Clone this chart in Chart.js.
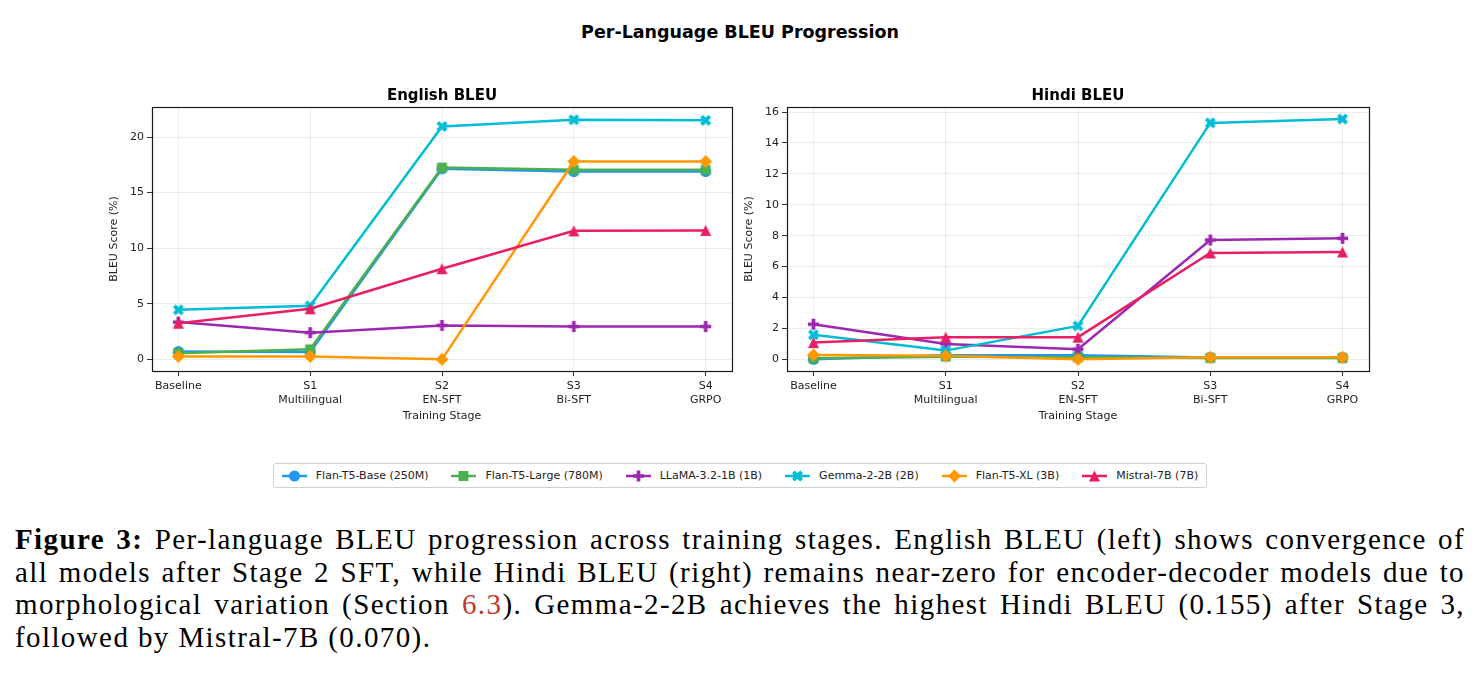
<!DOCTYPE html>
<html>
<head>
<meta charset="utf-8">
<script src="https://cdn.jsdelivr.net/npm/chart.js@4.4.1/dist/chart.umd.min.js"></script>
<style>
    html, body { margin:0; padding:0; background:#fff; }
    body { width:1480px; height:679px; position:relative; overflow:hidden; font-family:'DejaVu Sans', sans-serif; color:#000; }
    #suptitle { position:absolute; left:0; top:23.5px; width:1480px; text-align:center; font-size:17.5px; font-weight:bold; line-height:1; }
    .box { position:absolute; top:80px; }
    #boxEn { left:100px; }
    #boxHi { left:735px; }
    #legendWrap { position:absolute; left:0; top:463px; width:1480px; display:flex; justify-content:center; }
    #legend { display:flex; align-items:center; height:23px; padding:0 8px; border:1px solid #d0d0d0; border-radius:3px; font-size:11px; color:#222; }
    .lgItem { display:flex; align-items:center; margin-right:23px; }
    .lgItem:last-child { margin-right:0; }
    .lgItem canvas { margin-right:9px; }
    #caption { position:absolute; left:15px; top:523px; width:1450px; font-family:'Liberation Serif', serif; font-size:29px; line-height:32.5px; letter-spacing:1.4px; }
    #caption .ln { white-space:nowrap; text-align:justify; text-align-last:justify; }
    #caption .ln.last { text-align:left; text-align-last:left; }
    #caption .ref { color:#c0392b; }
</style>
</head>
<body>
<div id="suptitle">Per-Language BLEU Progression</div>
<div class="box" id="boxEn"><canvas id="chartEn" width="642" height="345"></canvas></div>
<div class="box" id="boxHi"><canvas id="chartHi" width="644" height="345"></canvas></div>
<div id="legendWrap"><div id="legend"></div></div>
<div id="caption">
    <div class="ln"><b>Figure 3:</b> Per-language BLEU progression across training stages. English BLEU (left) shows convergence of</div>
    <div class="ln">all models after Stage 2 SFT, while Hindi BLEU (right) remains near-zero for encoder-decoder models due to</div>
    <div class="ln">morphological variation (Section <span class="ref">6.3</span>). Gemma-2-2B achieves the highest Hindi BLEU (0.155) after Stage 3,</div>
    <div class="ln last">followed by Mistral-7B (0.070).</div>
</div>
<script>
// x축 단계 (여러 줄 라벨)
const stages = [['Baseline'], ['S1', 'Multilingual'], ['S2', 'EN-SFT'], ['S3', 'Bi-SFT'], ['S4', 'GRPO']];

// 모델 이름 / 색 / 마커
const models = ['Flan-T5-Base (250M)', 'Flan-T5-Large (780M)', 'LLaMA-3.2-1B (1B)', 'Gemma-2-2B (2B)', 'Flan-T5-XL (3B)', 'Mistral-7B (7B)'];
const modelColors = ['#2196F3', '#4CAF50', '#9C27B0', '#00BCD4', '#FF9800', '#E91E63'];
const modelMarkers = ['circle', 'square', 'plus', 'x', 'diamond', 'triangle'];

// English BLEU (%)
const enFlanBase  = [0.7, 0.65, 17.15, 16.9, 16.9];
const enFlanLarge = [0.55, 0.9, 17.25, 17.05, 17.05];
const enLlama     = [3.35, 2.4, 3.05, 2.95, 2.95];
const enGemma     = [4.45, 4.82, 20.95, 21.55, 21.5];
const enFlanXL    = [0.25, 0.25, 0.0, 17.8, 17.8];
const enMistral   = [3.25, 4.55, 8.15, 11.56, 11.6];

// Hindi BLEU (%)
const hiFlanBase  = [0.0, 0.26, 0.26, 0.12, 0.12];
const hiFlanLarge = [0.06, 0.17, 0.13, 0.08, 0.08];
const hiLlama     = [2.27, 0.99, 0.65, 7.72, 7.83];
const hiGemma     = [1.58, 0.56, 2.16, 15.3, 15.55];
const hiFlanXL    = [0.28, 0.22, 0.0, 0.13, 0.13];
const hiMistral   = [1.08, 1.43, 1.43, 6.88, 6.94];

// y축 눈금 / 범위
const enTicks = [0, 5, 10, 15, 20];
const hiTicks = [0, 2, 4, 6, 8, 10, 12, 14, 16];
const enRange = [-1.05, 22.7];
const hiRange = [-0.76, 16.33];

const FONT = 'DejaVu Sans';

// 마커 그리기 (matplotlib 모양 흉내)
function drawMarker(ctx, shape, x, y, s, color) {
    const h = s / 2;
    ctx.fillStyle = color;
    ctx.beginPath();
    if (shape === 'circle') {
        ctx.arc(x, y, h, 0, Math.PI * 2);
    } else if (shape === 'square') {
        ctx.rect(x - h * 0.9, y - h * 0.9, s * 0.9, s * 0.9);
    } else if (shape === 'diamond') {
        ctx.moveTo(x, y - h); ctx.lineTo(x + h, y); ctx.lineTo(x, y + h); ctx.lineTo(x - h, y);
    } else if (shape === 'triangle') {
        ctx.moveTo(x, y - h); ctx.lineTo(x + h, y + h); ctx.lineTo(x - h, y + h);
    } else if (shape === 'plus') {
        const pts = [[-1,-3],[1,-3],[1,-1],[3,-1],[3,1],[1,1],[1,3],[-1,3],[-1,1],[-3,1],[-3,-1],[-1,-1]];
        pts.forEach((p, i) => { const px = x + p[0] / 6 * s, py = y + p[1] / 6 * s; i ? ctx.lineTo(px, py) : ctx.moveTo(px, py); });
    } else if (shape === 'x') {
        const pts = [[-1,-2],[0,-1],[1,-2],[2,-1],[1,0],[2,1],[1,2],[0,1],[-1,2],[-2,1],[-1,0],[-2,-1]];
        pts.forEach((p, i) => { const px = x + p[0] / 4 * s, py = y + p[1] / 4 * s; i ? ctx.lineTo(px, py) : ctx.moveTo(px, py); });
    }
    ctx.closePath();
    ctx.fill();
}

function markerCanvas(shape, color) {
    const s = shape === 'diamond' ? 13 : 11;
    const c = document.createElement('canvas');
    c.width = s + 2; c.height = s + 2;
    drawMarker(c.getContext('2d'), shape, (s + 2) / 2, (s + 2) / 2, s, color);
    return c;
}

function makeDatasets(seriesList) {
    return seriesList.map((vals, i) => ({
        label: models[i],
        data: vals.map((v, k) => ({ x: k, y: v })),
        borderColor: modelColors[i],
        backgroundColor: modelColors[i],
        borderWidth: 2.5,
        pointStyle: markerCanvas(modelMarkers[i], modelColors[i]),
        pointRadius: 6,
        tension: 0,
        order: seriesList.length - i
    }));
}

// 프레임 + 플롯 중앙 제목 (matplotlib 처럼 축 영역 기준)
const framePlugin = {
    id: 'frame',
    afterDraw(chart) {
        const a = chart.chartArea, ctx = chart.ctx;
        ctx.save();
        ctx.strokeStyle = '#1a1a1a';
        ctx.lineWidth = 1.2;
        ctx.strokeRect(Math.round(a.left) + 0.5, Math.round(a.top) + 0.5, Math.round(a.right - a.left), Math.round(a.bottom - a.top));
        ctx.fillStyle = '#000';
        ctx.font = 'bold 15px ' + FONT;
        ctx.textAlign = 'center';
        ctx.textBaseline = 'alphabetic';
        ctx.fillText(chart.options.plugins.frame.title, (a.left + a.right) / 2, a.top - 6.6);
        ctx.restore();
    }
};

function buildOptions(title, range, yTicks) {
    const tickFont = { family: FONT, size: 11 };
    return {
        responsive: false,
        animation: false,
        layout: { padding: { left: 0, right: 10, top: 27, bottom: 0 } },
        plugins: {
            legend: { display: false },
            tooltip: { enabled: false },
            title: { display: false },
            frame: { title: title }
        },
        scales: {
            x: {
                type: 'linear', min: -0.2, max: 4.2,
                afterBuildTicks: s => { s.ticks = stages.map((_, i) => ({ value: i })); },
                afterFit: s => { s.height = 54; },
                ticks: { callback: v => stages[v], color: '#222', font: tickFont, padding: 4, maxRotation: 0, autoSkip: false },
                grid: { color: 'rgba(176,176,176,0.3)', lineWidth: 0.8, tickColor: '#333', tickLength: 5, tickWidth: 1 },
                border: { display: false },
                title: { display: true, text: 'Training Stage', color: '#222', font: tickFont, padding: { top: 2, bottom: 2 } }
            },
            y: {
                min: range[0], max: range[1],
                afterBuildTicks: s => { s.ticks = yTicks.map(v => ({ value: v })); },
                afterFit: s => { s.width = 52; },
                ticks: { callback: v => String(v), color: '#222', font: tickFont, padding: 3 },
                grid: { color: 'rgba(176,176,176,0.3)', lineWidth: 0.8, tickColor: '#333', tickLength: 5, tickWidth: 1 },
                border: { display: false },
                title: { display: true, text: 'BLEU Score (%)', color: '#222', font: tickFont, padding: { top: 8, bottom: 0 } }
            }
        }
    };
}

new Chart(document.getElementById('chartEn'), {
    type: 'line',
    data: { datasets: makeDatasets([enFlanBase, enFlanLarge, enLlama, enGemma, enFlanXL, enMistral]) },
    options: buildOptions('English BLEU', enRange, enTicks),
    plugins: [framePlugin]
});

new Chart(document.getElementById('chartHi'), {
    type: 'line',
    data: { datasets: makeDatasets([hiFlanBase, hiFlanLarge, hiLlama, hiGemma, hiFlanXL, hiMistral]) },
    options: buildOptions('Hindi BLEU', hiRange, hiTicks),
    plugins: [framePlugin]
});

// 범례 (두 차트 공용)
const legendEl = document.getElementById('legend');
models.forEach((name, i) => {
    const item = document.createElement('div');
    item.className = 'lgItem';
    const c = document.createElement('canvas');
    c.width = 25; c.height = 14;
    const ctx = c.getContext('2d');
    ctx.strokeStyle = modelColors[i];
    ctx.lineWidth = 2.5;
    ctx.beginPath(); ctx.moveTo(0, 7); ctx.lineTo(25, 7); ctx.stroke();
    drawMarker(ctx, modelMarkers[i], 12.5, 7, modelMarkers[i] === 'diamond' ? 13 : 11, modelColors[i]);
    const span = document.createElement('span');
    span.textContent = name;
    item.appendChild(c);
    item.appendChild(span);
    legendEl.appendChild(item);
});
</script>
</body>
</html>
